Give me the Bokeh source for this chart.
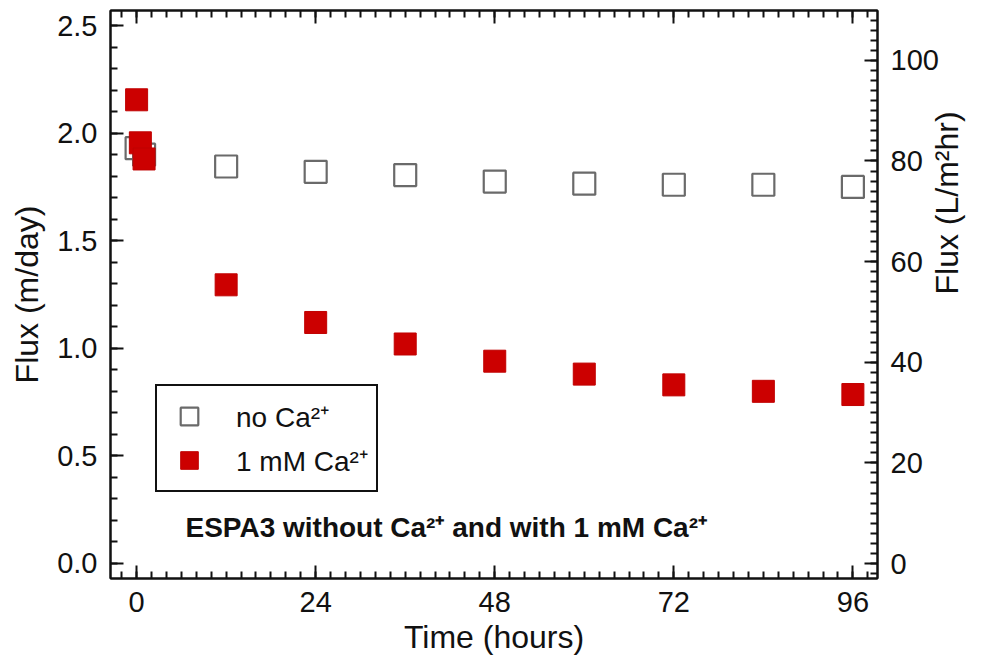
import math
from bokeh.plotting import figure
from bokeh.models import (Range1d, LinearAxis, SingleIntervalTicker, PrintfTickFormatter,
                          Legend, LegendItem, Label, CustomLabelingPolicy)
from bokeh.embed import file_html
from bokeh.resources import INLINE

# ---- data ----
time_no_ca = [0, 1, 12, 24, 36, 48, 60, 72, 84, 96]
flux_no_ca = [1.93, 1.90, 1.845, 1.82, 1.805, 1.775, 1.765, 1.76, 1.76, 1.75]
time_ca = [0, 0.5, 1, 12, 24, 36, 48, 60, 72, 84, 96]
flux_ca = [2.155, 1.955, 1.88, 1.295, 1.12, 1.02, 0.94, 0.88, 0.83, 0.80, 0.785]

label_no_ca = "no Ca²⁺"
label_ca = "1 mM Ca²⁺"
x_title = "Time (hours)"
y_title = "Flux (m/day)"
y2_title = "Flux (L/m²hr)"
note = "ESPA3 without Ca²⁺ and with 1 mM Ca²⁺"
panel_tag = "(a)"

FONT = "Liberation Sans"
INK = "#111111"

p = figure(width=987, height=669, output_backend="svg", toolbar_location=None,
           x_range=Range1d(-3.5, 99.3), y_range=Range1d(-0.070, 2.570),
           min_border_left=110, min_border_right=110, min_border_top=10, min_border_bottom=91)
p.extra_y_ranges = {"lmh": Range1d(-2.98, 109.9)}
p.grid.visible = False
p.outline_line_color = INK
p.outline_line_width = 2
p.background_fill_color = "white"
p.border_fill_color = "white"

def style_axis(ax, major, minor):
    ax.ticker = SingleIntervalTicker(interval=major, num_minor_ticks=minor)
    ax.axis_line_color = INK
    ax.axis_line_width = 2
    ax.major_tick_line_color = INK
    ax.major_tick_line_width = 2
    ax.minor_tick_line_color = INK
    ax.minor_tick_line_width = 2
    ax.major_tick_in = 13
    ax.major_tick_out = 0
    ax.minor_tick_in = 7
    ax.minor_tick_out = 0
    ax.major_label_text_font = FONT
    ax.major_label_text_font_size = "29px"
    ax.major_label_text_color = INK
    ax.axis_label_text_font = FONT
    ax.axis_label_text_font_size = "32px"
    ax.axis_label_text_font_style = "normal"
    ax.axis_label_text_color = INK

xa = p.xaxis[0]
style_axis(xa, 24, 12)
xa.axis_label = x_title
xa.major_label_standoff = 13
xa.axis_label_standoff = 4

ya = p.yaxis[0]
style_axis(ya, 0.5, 5)
ya.axis_label = y_title
ya.formatter = PrintfTickFormatter(format="%.1f")
ya.major_label_standoff = 13
ya.axis_label_standoff = 9

ra = LinearAxis(y_range_name="lmh")
style_axis(ra, 20, 10)
ra.axis_label = y2_title
ra.axis_label_orientation = math.pi / 2
ra.major_label_standoff = 13
ra.axis_label_standoff = 5
p.add_layout(ra, "right")

ta = LinearAxis()
style_axis(ta, 24, 12)
ta.major_label_policy = CustomLabelingPolicy(code="""
for (const i of Array.from(indices)) indices.unset(i)
return indices
""")
ta.major_label_text_font_size = "0px"
ta.major_label_standoff = 0
p.add_layout(ta, "above")

r1 = p.scatter(time_no_ca, flux_no_ca, marker="square", size=22,
               fill_alpha=0, line_color="#6a6a6a", line_width=2.2)
r2 = p.scatter(time_ca, flux_ca, marker="square", size=22,
               fill_color="#cc0000", line_color="#c00000", line_width=1)

legend = Legend(items=[LegendItem(label=label_no_ca, renderers=[r1]),
                       LegendItem(label=label_ca, renderers=[r2])],
                location=(45, 86), orientation="vertical")
legend.border_line_color = INK
legend.border_line_width = 2
legend.border_line_alpha = 1
legend.background_fill_color = "white"
legend.background_fill_alpha = 1
legend.padding = 8
legend.spacing = 0
legend.margin = 0
legend.glyph_width = 48
legend.glyph_height = 44
legend.label_standoff = 23
legend.label_text_font = FONT
legend.label_text_font_size = "28px"
legend.label_text_color = INK
legend.label_height = 44
p.add_layout(legend)

p.add_layout(Label(x=41.5, y=0.165, text=note, text_align="center", text_baseline="middle",
                   text_font=FONT, text_font_size="28px", text_font_style="bold",
                   text_color=INK))
p.add_layout(Label(x=-80, y=-62, x_units="screen", y_units="screen", text=panel_tag,
                   text_align="center", text_baseline="middle",
                   text_font=FONT, text_font_size="28px", text_color=INK))

open("out.html", "w").write(file_html(p, INLINE))
